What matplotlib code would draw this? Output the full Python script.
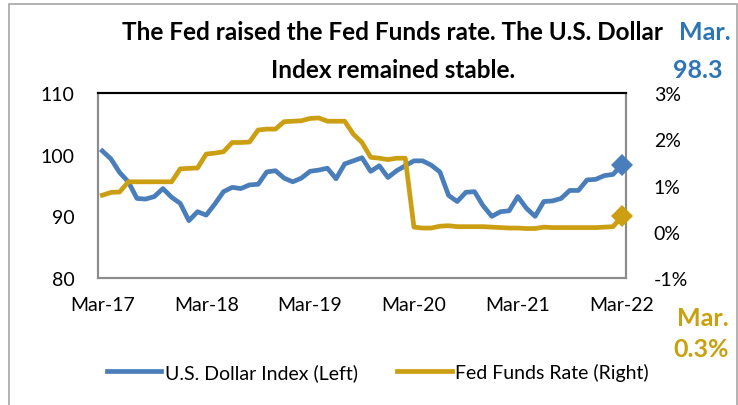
import matplotlib
matplotlib.use("Agg")
import matplotlib.pyplot as plt
from matplotlib.patches import Rectangle
from matplotlib.ticker import FixedLocator, FuncFormatter

plt.rcParams['font.family'] = ['Lato', 'DejaVu Sans']

# Monthly data, Mar-2017 .. Mar-2022 (61 months)
usd_index = [100.6, 99.3, 97.1, 95.6, 92.9, 92.8, 93.2, 94.5, 93.1, 92.1,
             89.3, 90.75, 90.2, 92.0, 94.0, 94.7, 94.5, 95.1, 95.2, 97.2,
             97.4, 96.2, 95.6, 96.2, 97.3, 97.5, 97.8, 96.1, 98.5, 99.0,
             99.5, 97.3, 98.2, 96.3, 97.4, 98.2, 99.0, 99.0, 98.3, 97.2,
             93.4, 92.4, 93.9, 94.0, 91.7, 90.0, 90.75, 90.9, 93.2, 91.3,
             90.0, 92.4, 92.5, 92.9, 94.2, 94.2, 95.9, 96.0, 96.6, 96.8,
             98.3]
fed_funds = [0.79, 0.85, 0.86, 1.08, 1.08, 1.08, 1.08, 1.08, 1.08, 1.36,
             1.37, 1.38, 1.68, 1.70, 1.73, 1.93, 1.93, 1.94, 2.20, 2.22,
             2.22, 2.38, 2.39, 2.40, 2.45, 2.46, 2.39, 2.39, 2.39, 2.11,
             1.93, 1.61, 1.59, 1.56, 1.59, 1.59, 0.10, 0.08, 0.08, 0.12,
             0.13, 0.11, 0.11, 0.11, 0.11, 0.10, 0.09, 0.08, 0.08, 0.07,
             0.07, 0.10, 0.09, 0.09, 0.09, 0.09, 0.09, 0.09, 0.10, 0.11,
             0.33]
x_labels = ["Mar-17", "Mar-18", "Mar-19", "Mar-20", "Mar-21", "Mar-22"]
left_ticks = [80, 90, 100, 110]
right_ticks = [-1, 0, 1, 2, 3]

title_lines = ["The Fed raised the Fed Funds rate. The U.S. Dollar",
               "Index remained stable."]
legend_labels = ["U.S. Dollar Index (Left)", "Fed Funds Rate (Right)"]

BLUE = "#4A7EBB"
GOLD = "#CC9F12"
BLUE_TXT = "#2E75B6"
GOLD_TXT = "#C9A00D"

W, H = 738, 406
fig = plt.figure(figsize=(W / 100, H / 100), dpi=100)

def fx(px):
    return px / W

def fy(py):
    return 1 - py / H

# outer frame
fig.patches.append(Rectangle((fx(9), fy(420)), fx(737) - fx(9), fy(5) - fy(420),
                             transform=fig.transFigure, fill=False,
                             edgecolor="#A6A6A6", lw=1.2))

ax = fig.add_axes([fx(98), fy(279), fx(626) - fx(98), fy(94) - fy(279)])
ax2 = ax.twinx()

x = list(range(len(usd_index)))
ax.set_xlim(-0.5, len(x) - 0.5)
ax.set_ylim(80, 110)
ax2.set_ylim(-1, 3)

l1, = ax.plot(x, usd_index, color=BLUE, lw=3.4, solid_joinstyle="round")
l2, = ax2.plot(x, fed_funds, color=GOLD, lw=3.4, solid_joinstyle="round")
# end markers drawn on the top axes so they sit above the right spine
ax2.plot([x[-1]], [usd_index[-1]], marker="D", color=BLUE, ms=11,
         mew=0, lw=0, clip_on=False, zorder=5, transform=ax.transData)
ax2.plot([x[-1]], [fed_funds[-1]], marker="D", color=GOLD, ms=11,
         mew=0, lw=0, clip_on=False, zorder=5)

ax.yaxis.set_major_locator(FixedLocator(left_ticks))
ax2.yaxis.set_major_locator(FixedLocator(right_ticks))
ax2.yaxis.set_major_formatter(FuncFormatter(lambda v, p: f"{v:.0f}%"))
ax.set_xticks(list(range(0, len(x), 12)))
ax.set_xticklabels(x_labels)

for a in (ax, ax2):
    a.tick_params(length=0, labelsize=14, colors="black")
    for s in a.spines.values():
        s.set_color("#8C8C8C")
        s.set_linewidth(1.5)
    a.spines["top"].set_color("black")
ax.tick_params(axis="y", pad=17)
ax2.tick_params(axis="y", pad=20)
ax.tick_params(axis="x", pad=13)

fig.text(fx(393), fy(33), title_lines[0], ha="center", va="center",
         fontsize=17.5, fontweight="bold")
fig.text(fx(393), fy(70), title_lines[1], ha="center", va="center",
         fontsize=17.5, fontweight="bold")

fig.text(fx(731), fy(33), "Mar.", ha="right", va="center", fontsize=18,
         fontweight="bold", color=BLUE_TXT)
fig.text(fx(723), fy(70), f"{usd_index[-1]:.1f}", ha="right", va="center",
         fontsize=18, fontweight="bold", color=BLUE_TXT)
fig.text(fx(729), fy(318), "Mar.", ha="right", va="center", fontsize=18,
         fontweight="bold", color=GOLD_TXT)
fig.text(fx(729), fy(350), f"{fed_funds[-1]:.1f}%", ha="right", va="center",
         fontsize=18, fontweight="bold", color=GOLD_TXT)

fig.legend([l1, l2], legend_labels, loc="center", ncol=2,
           bbox_to_anchor=(fx(378), fy(373)), frameon=False, fontsize=14,
           handlelength=2.8, handletextpad=0.2, columnspacing=2.0)

fig.savefig("out.png", dpi=100)
